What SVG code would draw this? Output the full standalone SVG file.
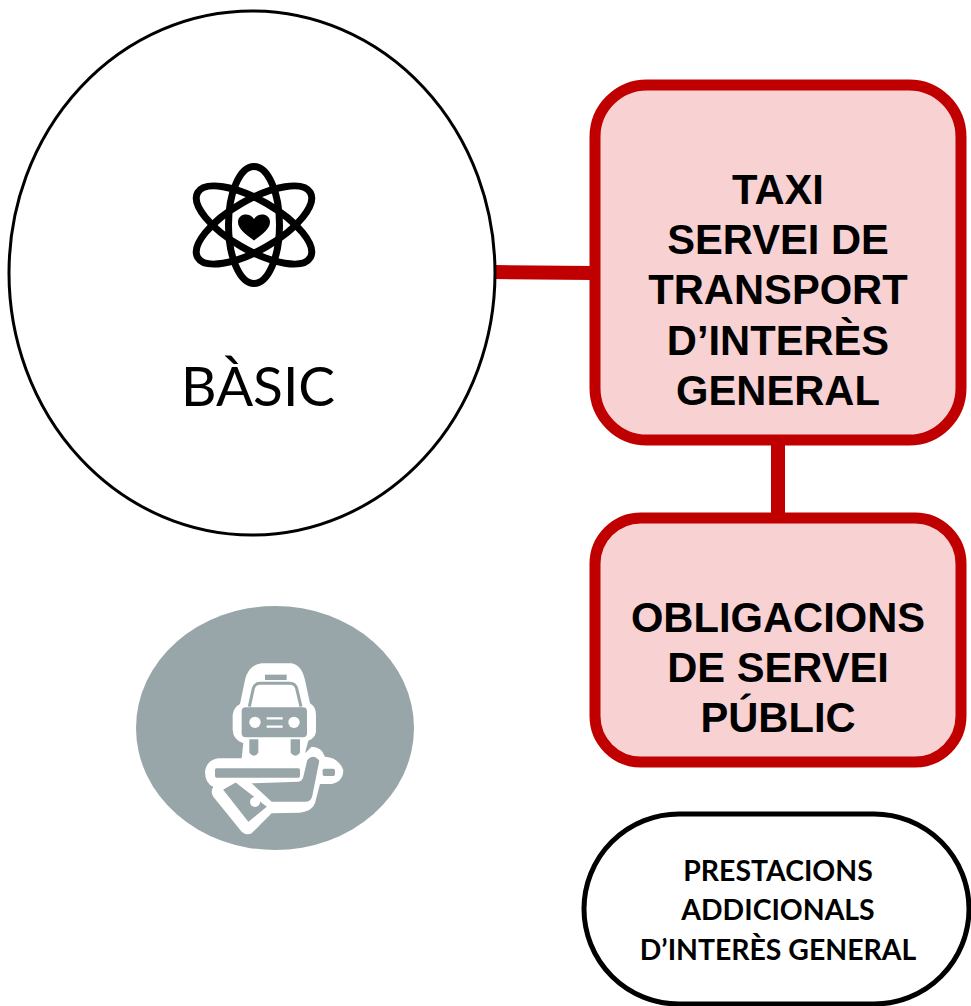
<svg xmlns="http://www.w3.org/2000/svg" width="971" height="1006" viewBox="0 0 971 1006">
<style>
.box{fill:#f8d2d3;stroke:#c00000;stroke-width:11}
.t{font-family:"Liberation Sans",Arial,sans-serif;font-weight:700;font-size:41.7px;fill:#000;text-anchor:middle}
.c{font-family:Lato,"Open Sans",sans-serif;font-weight:700;font-size:28.4px;fill:#000;text-anchor:middle}
.ic{fill:none;stroke:#000;stroke-width:7}
.gf{fill:#98a6a9}
</style>
<rect width="971" height="1006" fill="#fff"/>
<g id="connectors" stroke="#c00000" stroke-width="14" fill="none">
<line x1="495" y1="272" x2="592" y2="273"/>
<line x1="778" y1="442" x2="778" y2="518"/>
</g>
<g id="basic">
<ellipse cx="252" cy="273" rx="243" ry="262" fill="#fff" stroke="#000" stroke-width="3"/>
<g class="ic">
<ellipse cx="254" cy="225" rx="25.500" ry="58.500"/>
<ellipse cx="254" cy="225" rx="25" ry="65" transform="rotate(60 254 225)"/>
<ellipse cx="254" cy="225" rx="25" ry="65" transform="rotate(-60 254 225)"/>
</g>
<path d="M254 240.500c-9-7-16-11.500-16-18.500 0-8.500 11.500-10 16-3 4.500-7 16-5.500 16 3 0 7-7 11.500-16 18.500z" fill="#000"/>
<text x="258" y="406" font-family="Lato,Open Sans,sans-serif" font-size="55" text-anchor="middle">BÀSIC</text>
</g>
<g id="taxi-icon">
<ellipse cx="275" cy="728" rx="139" ry="122" class="gf"/>
<g transform="translate(130 600) scale(.3333)">
<path fill="#fff" d="M395 190H485Q515 195 525 240L540 310Q558 320 558 345V395Q555 415 535 422L525 460L545 440Q575 440 585 470Q625 472 640 510Q640 545 605 552H570L555 610Q545 635 510 638L425 640L365 700Q350 708 335 695L250 590Q240 575 250 560Q225 550 225 515Q230 480 265 475H335L340 430Q310 420 308 390V345Q310 322 330 312L345 240Q355 195 395 190Z"/>
<path fill="none" stroke="#98a6a9" stroke-width="9" d="M358 320l12-55q5-15 20-15h90q15 0 20 15l13 55"/>
<rect x="405" y="224" width="65" height="16" class="gf"/>
<rect x="335" y="322" width="196" height="90" rx="12" class="gf"/>
<circle cx="375" cy="367" r="17" fill="#fff"/>
<circle cx="492" cy="367" r="17" fill="#fff"/>
<path stroke="#fff" stroke-width="7" d="M410 355h48M410 380h48"/>
<path class="gf" d="M358 418h27v40q-13 18-27 0zM482 418h28v40q-14 18-28 0z"/>
<rect x="255" y="505" width="255" height="28" rx="5" class="gf"/>
<rect x="578" y="506" width="37" height="22" rx="5" class="gf"/>
<path class="gf" d="M532 480q18-20 36 2l-21 105q-3 18-22 18h-100l-60-55 140-5q12-2 15-15z"/>
<path class="gf" stroke="#fff" stroke-width="6" d="M275 568l42-24 98 76-60 50z"/>
<circle cx="375" cy="606" r="15" fill="#fff"/>
</g>
</g>
<g id="taxi">
<rect x="595" y="85" width="366" height="355" rx="52" class="box"/>
<text class="t"><tspan x="778" y="204">TAXI</tspan><tspan x="778" y="254">SERVEI DE</tspan><tspan x="778" y="304">TRANSPORT</tspan><tspan x="778" y="355">D’INTERÈS</tspan><tspan x="778" y="405">GENERAL</tspan></text>
</g>
<g id="obligacions">
<rect x="595" y="518" width="366" height="244" rx="46" class="box"/>
<text class="t"><tspan x="778" y="632">OBLIGACIONS</tspan><tspan x="778" y="682">DE SERVEI</tspan><tspan x="778" y="732">PÚBLIC</tspan></text>
</g>
<g id="prestacions">
<rect x="584" y="814" width="385" height="190" rx="95" fill="#fff" stroke="#000" stroke-width="5"/>
<text class="c"><tspan x="778" y="881">PRESTACIONS</tspan><tspan x="778" y="920">ADDICIONALS</tspan><tspan x="778" y="960">D’INTERÈS GENERAL</tspan></text>
</g>
</svg>
